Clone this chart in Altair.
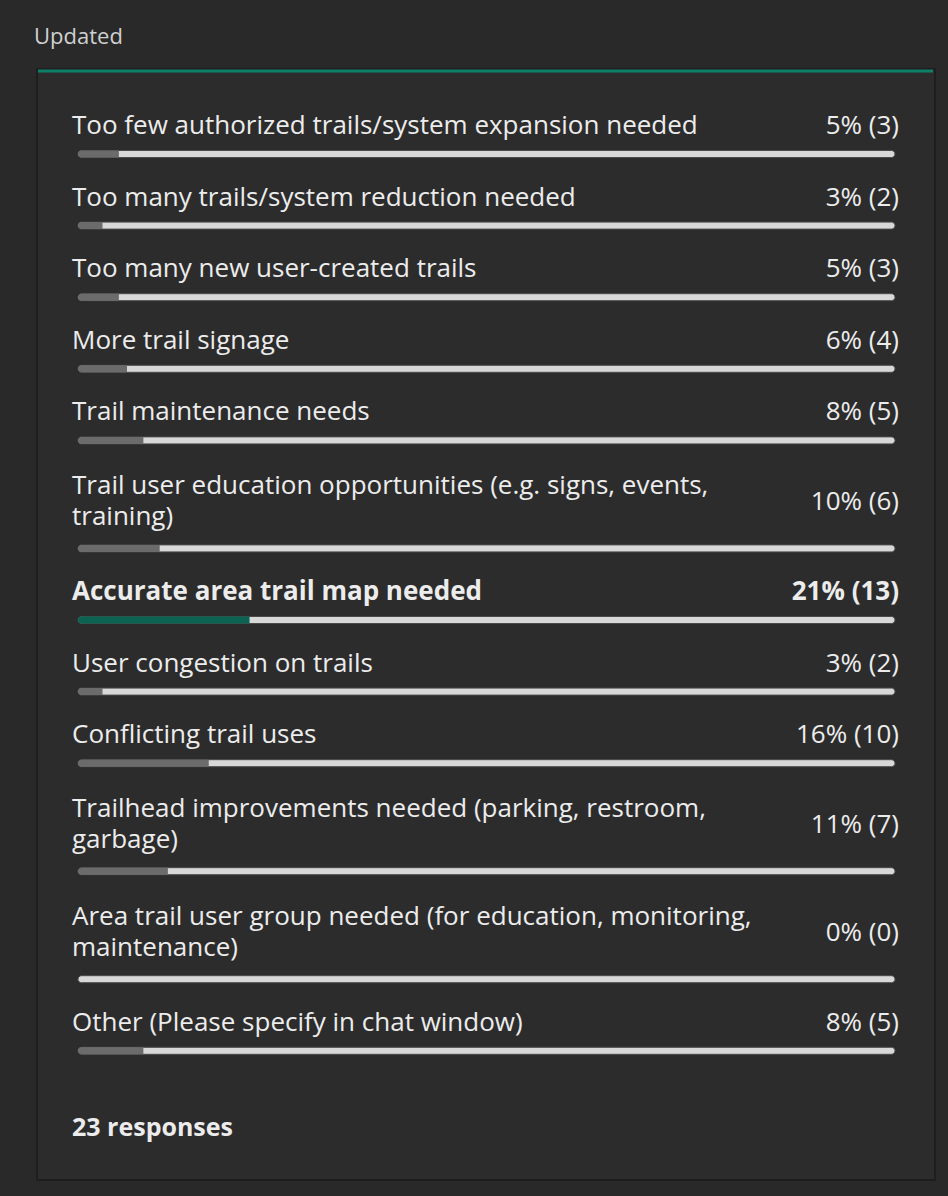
import altair as alt
import pandas as pd

# ---- data ----
label_lines = [
    ["Too few authorized trails/system expansion needed"],
    ["Too many trails/system reduction needed"],
    ["Too many new user-created trails"],
    ["More trail signage"],
    ["Trail maintenance needs"],
    ["Trail user education opportunities (e.g. signs, events,", "training)"],
    ["Accurate area trail map needed"],
    ["User congestion on trails"],
    ["Conflicting trail uses"],
    ["Trailhead improvements needed (parking, restroom,", "garbage)"],
    ["Area trail user group needed (for education, monitoring,", "maintenance)"],
    ["Other (Please specify in chat window)"],
]
pcts = [5, 3, 5, 6, 8, 10, 21, 3, 16, 11, 0, 8]
counts = [3, 2, 3, 4, 5, 6, 13, 2, 10, 7, 0, 5]
highlight = [False, False, False, False, False, False, True, False, False, False, False, False]
title_text = "Updated"
footer_text = "23 responses"

# ---- layout (pixels) ----
W, H = 948, 1196
FONT = "Open Sans"
FS = 26
rows, lines = [], []
bar_y = None
for i, lab in enumerate(label_lines):
    two = len(lab) > 1
    if bar_y is None:
        bar_y = 154
    else:
        bar_y += 108 if two else 71.6
    rows.append(dict(idx=i, bar_y=bar_y, pct=pcts[i], start=0, full=100,
                     pct_y=bar_y - (46 if two else 28),
                     txt=f"{pcts[i]}% ({counts[i]})", hl=highlight[i]))
    offs = [-62, -31] if two else [-28]
    for ln, off in zip(lab, offs):
        lines.append(dict(line=ln, y=bar_y + off, hl=highlight[i]))

rdf = pd.DataFrame(rows)
ldf = pd.DataFrame(lines)

xs = alt.Scale(domain=[0, 100], range=[78, 895])

panel = alt.Chart(pd.DataFrame({"a": [0]})).mark_rect(
    fill="#2c2c2c", stroke="#1e1e1e", strokeWidth=2
).encode(x=alt.value(37), x2=alt.value(935), y=alt.value(69), y2=alt.value(1180))

teal = alt.Chart(pd.DataFrame({"a": [0]})).mark_rule(
    color="#0f8068", strokeWidth=3
).encode(x=alt.value(38), x2=alt.value(933), y=alt.value(71))

track = alt.Chart(rdf).mark_bar(
    color="#d8d8d8", height=7, cornerRadius=3.5, stroke="#4a4a4a", strokeWidth=1
).encode(
    x=alt.X("start:Q", scale=xs, axis=None), x2="full:Q",
    y=alt.Y("bar_y:Q", scale=None))
fill = alt.Chart(rdf).transform_filter("datum.pct > 0").mark_bar(
    height=7, cornerRadiusTopLeft=3.5, cornerRadiusBottomLeft=3.5
).encode(
    x=alt.X("start:Q", scale=xs, axis=None), x2="pct:Q",
    y=alt.Y("bar_y:Q", scale=None),
    color=alt.Color("hl:N", scale=alt.Scale(domain=[False, True], range=["#6b6b6b", "#0b6452"]), legend=None))


def texts(df, field, yfield, x, align, bold):
    flt = "datum.hl" if bold else "!datum.hl"
    return alt.Chart(df).transform_filter(flt).mark_text(
        align=align, baseline="middle", font=FONT, fontSize=FS, color="#ececec",
        fontWeight="bold" if bold else "normal"
    ).encode(x=alt.value(x), y=alt.Y(f"{yfield}:Q", scale=None), text=f"{field}:N")


label_n = texts(ldf, "line", "y", 72, "left", False)
label_b = texts(ldf, "line", "y", 72, "left", True)
pct_n = texts(rdf, "txt", "pct_y", 899, "right", False)
pct_b = texts(rdf, "txt", "pct_y", 899, "right", True)

title = alt.Chart(pd.DataFrame({"t": [title_text]})).mark_text(
    align="left", baseline="middle", font=FONT, fontSize=22, color="#d0d0d0"
).encode(x=alt.value(34), y=alt.value(37), text="t:N")

footer = alt.Chart(pd.DataFrame({"t": [footer_text]})).mark_text(
    align="left", baseline="middle", font=FONT, fontSize=25, fontWeight="bold", color="#ececec"
).encode(x=alt.value(72), y=alt.value(1128), text="t:N")

chart = alt.layer(panel, teal, track, fill, label_n, label_b, pct_n, pct_b, title, footer).properties(
    width=W, height=H, background="#292929", padding=0,
    autosize=alt.AutoSizeParams(type="none")
).configure_view(stroke=None)

chart.save("out.html", embed_options={"renderer": "svg", "actions": False})
